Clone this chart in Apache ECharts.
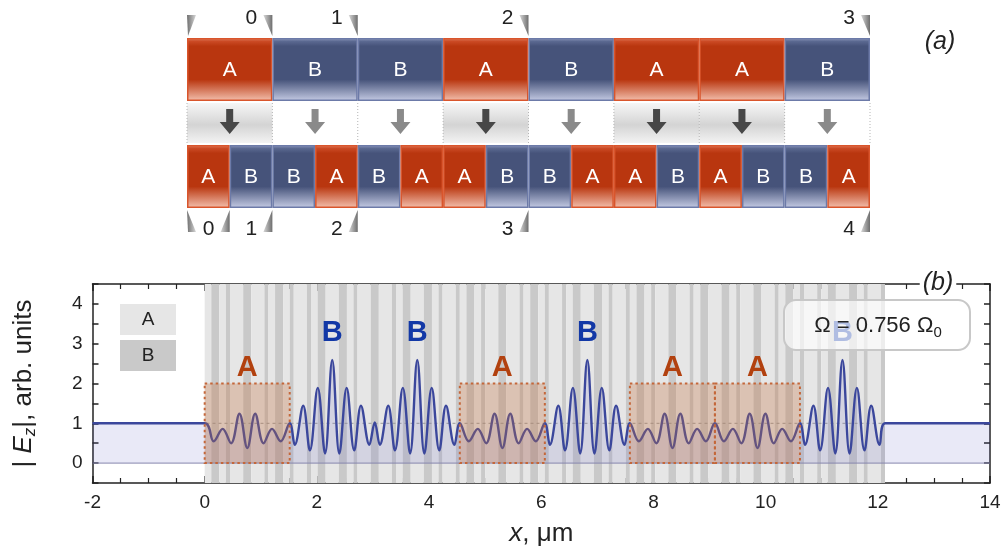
<!DOCTYPE html>
<html><head><meta charset="utf-8">
<script src="https://cdn.jsdelivr.net/npm/echarts@6/dist/echarts.min.js"></script>
<style>html,body{margin:0;padding:0;background:#fff}#c{width:1006px;height:548px}</style>
</head><body><div id="c"></div>
<script>
// ---------------- Panel (a) data ----------------
const topBlocks = ['A','B','B','A','B','A','A','B'];
const bottomBlocks = ['A','B','B','A','B','A','A','B','B','A','A','B','A','B','B','A'];
const topMarkPos = [0, 1, 2, 4, 8];            // in top-block units
const topMarkLabels = ['', '0', '1', '2', '3'];
const bottomMarkPos = [0, 1, 2, 4, 8, 16];     // in half-block units
const bottomMarkLabels = ['', '0', '1', '2', '3', '4'];

// ---------------- Panel (b) data ----------------
const layerSequence = [
  'ABBABAABBAABABBA','BAABABBAABBABAAB','BAABABBAABBABAAB','ABBABAABBAABABBA',
  'BAABABBAABBABAAB','ABBABAABBAABABBA','ABBABAABBAABABBA','BAABABBAABBABAAB'
].join('');
const thicknessA = 0.1175;   // µm
const thicknessB = 0.072;    // µm
const xTickLabels = ['-2','0','2','4','6','8','10','12','14'];
const yTickLabels = ['0','1','2','3','4'];
const curveX = [
  -2, 0,
  0.16,0.32,0.47,0.62,0.76,0.90,1.05,1.20,1.355,1.516,
  1.606,1.756,1.876,2.016,2.146,2.274,2.401,2.531,2.666,2.786,2.936,3.032,
  3.122,3.272,3.392,3.532,3.662,3.79,3.917,4.047,4.182,4.302,4.452,4.548,
  4.708,4.868,5.018,5.168,5.308,5.448,5.598,5.748,5.903,6.064,
  6.154,6.304,6.424,6.564,6.694,6.822,6.949,7.079,7.214,7.334,7.484,7.58,
  7.74,7.90,8.05,8.20,8.34,8.48,8.63,8.78,8.935,9.096,
  9.256,9.416,9.566,9.716,9.856,9.996,10.146,10.296,10.451,10.612,
  10.702,10.852,10.972,11.112,11.242,11.37,11.497,11.627,11.762,11.882,12.032,12.128,
  14
];
const curveY = [
  1, 1,
  0.55,0.86,0.50,1.24,0.38,1.24,0.50,0.86,0.55,1.0,
  0.46,1.44,0.32,1.89,0.24,2.59,0.24,1.89,0.32,1.44,0.46,1.02,
  0.46,1.44,0.32,1.89,0.24,2.59,0.24,1.89,0.32,1.44,0.46,1.0,
  0.55,0.86,0.50,1.24,0.38,1.24,0.50,0.86,0.55,1.0,
  0.46,1.44,0.32,1.89,0.24,2.59,0.24,1.89,0.32,1.44,0.46,1.0,
  0.55,0.86,0.50,1.24,0.38,1.24,0.50,0.86,0.55,1.0,
  0.55,0.86,0.50,1.24,0.38,1.24,0.50,0.86,0.55,1.0,
  0.46,1.44,0.32,1.89,0.24,2.59,0.24,1.89,0.32,1.44,0.46,1.0,
  1
];
const boxHeightA = 2;
const omegaText = 'Ω = 0.756 Ω';

// ---------------- derived geometry ----------------
const FONT = '"Liberation Sans", Arial, Helvetica, sans-serif';
const layers = [];
let acc = 0;
for (const t of layerSequence) {
  const d = t === 'A' ? thicknessA : thicknessB;
  layers.push([acc, acc + d, t === 'A' ? 0 : 1]);
  acc += d;
}
// merge consecutive layers of the same material into one stripe
const stripes = [];
for (const l of layers) {
  const last = stripes[stripes.length - 1];
  if (last && last[2] === l[2]) last[1] = l[1]; else stripes.push(l.slice());
}
const perBlock = layerSequence.length / topBlocks.length;
const blocks = topBlocks.map((t, i) => ({ t, x0: layers[i * perBlock][0], x1: layers[(i + 1) * perBlock - 1][1] }));
const blocksA = blocks.filter(b => b.t === 'A');
const curve = curveX.map((x, i) => [x, curveY[i]]);

const TOP_Y0 = 38, TOP_Y1 = 101, BAND_Y0 = 103, BAND_Y1 = 143, BOT_Y0 = 145, BOT_Y1 = 208;

function grad(stops) { return new echarts.graphic.LinearGradient(0, 0, 0, 1, stops.map((s) => ({ offset: s[0], color: s[1] }))); }
function blockFill(t) {
  return t === 'A'
    ? grad([[0, '#e28a6c'], [0.05, '#cc4b26'], [0.13, '#b9360f'], [0.66, '#b9360f'], [1, '#f3c0ae']])
    : grad([[0, '#9aa3c6'], [0.05, '#5c6a92'], [0.13, '#46537a'], [0.66, '#46537a'], [1, '#c5cbe4']]);
}
function blockStroke(t) { return t === 'A' ? '#d9552c' : '#6c7aa8'; }

function blockRenderer(arr, unit, y0, y1) {
  return function (params, api) {
    const i = params.dataIndex, t = arr[i];
    const p0 = api.coord([i * unit, y0]), p1 = api.coord([(i + 1) * unit, y1]);
    return { type: 'group', children: [
      { type: 'rect', shape: { x: p0[0] + 0.75, y: p0[1] + 0.75, width: p1[0] - p0[0] - 1.5, height: p1[1] - p0[1] - 1.5 },
        style: { fill: blockFill(t), stroke: blockStroke(t), lineWidth: 1.5 } },
      { type: 'text', style: { text: t, x: (p0[0] + p1[0]) / 2, y: (p0[1] + p1[1]) / 2 + 1, align: 'center', verticalAlign: 'middle',
        fill: '#fff', font: '21px ' + FONT } }
    ] };
  };
}

const chart = echarts.init(document.getElementById('c'));
const axisCol = '#222';
const option = {
  animation: false,
  backgroundColor: '#fff',
  grid: [
    { left: 187, top: 0, width: 683, height: 240 },
    { left: 92, top: 284, width: 898, height: 199 }
  ],
  xAxis: [
    { gridIndex: 0, type: 'value', min: 0, max: 8, show: false },
    { gridIndex: 1, type: 'value', min: -2, max: 14, interval: 2, position: 'bottom',
      axisLine: { onZero: false, lineStyle: { color: axisCol, width: 1.5 } },
      axisTick: { inside: true, length: 7, lineStyle: { color: axisCol, width: 1.5 } },
      minorTick: { show: true, splitNumber: 4, length: 5, lineStyle: { color: axisCol, width: 1.2 } },
      splitLine: { show: false },
      axisLabel: { fontSize: 19, fontFamily: FONT, color: '#222', margin: 10,
        formatter: (v) => xTickLabels[Math.round((v + 2) / 2)] },
      name: '{i|x}{n|, μm}', nameLocation: 'middle', nameGap: 38,
      nameTextStyle: { fontSize: 26, fontFamily: FONT, color: '#222',
        rich: { i: { fontSize: 26, fontFamily: FONT, fontStyle: 'italic', color: '#222' }, n: { fontSize: 26, fontFamily: FONT, color: '#222' } } } },
    { gridIndex: 1, type: 'value', min: -2, max: 14, interval: 2, position: 'top',
      axisLine: { onZero: false, lineStyle: { color: axisCol, width: 1.5 } },
      axisTick: { inside: true, length: 7, lineStyle: { color: axisCol, width: 1.5 } },
      minorTick: { show: true, splitNumber: 4, length: 5, lineStyle: { color: axisCol, width: 1.2 } },
      splitLine: { show: false }, axisLabel: { show: false } }
  ],
  yAxis: [
    { gridIndex: 0, type: 'value', min: 0, max: 240, inverse: true, show: false },
    { gridIndex: 1, type: 'value', min: -0.5, max: 4.5, interval: 0.5, position: 'left',
      axisLine: { onZero: false, lineStyle: { color: axisCol, width: 1.5 } },
      axisTick: { inside: true, length: 6, lineStyle: { color: axisCol, width: 1.5 } },
      splitLine: { show: false },
      axisLabel: { fontSize: 19, fontFamily: FONT, color: '#222', margin: 10,
        formatter: (v) => { const r = Math.round(v); return Math.abs(v - r) < 1e-6 ? yTickLabels[r] : ''; } },
      name: '{n|| }{i|E}{s|z}{n||, arb. units}', nameLocation: 'middle', nameRotate: 90, nameGap: 54,
      nameTextStyle: { fontSize: 26, fontFamily: FONT, color: '#222',
        rich: {
          n: { fontSize: 26, fontFamily: FONT, color: '#222', lineHeight: 30 },
          i: { fontSize: 26, fontFamily: FONT, fontStyle: 'italic', color: '#222', lineHeight: 30 },
          s: { fontSize: 17, fontFamily: FONT, fontStyle: 'italic', color: '#222', lineHeight: 17, padding: [14, 0, 0, 0] }
        } } },
    { gridIndex: 1, type: 'value', min: -0.5, max: 4.5, interval: 0.5, position: 'right',
      axisLine: { onZero: false, lineStyle: { color: axisCol, width: 1.5 } },
      axisTick: { inside: true, length: 6, lineStyle: { color: axisCol, width: 1.5 } },
      splitLine: { show: false }, axisLabel: { show: false } }
  ],
  series: [
    // ---- panel (b): layer stripes
    { type: 'custom', xAxisIndex: 1, yAxisIndex: 1, silent: true, z: 1, clip: true,
      data: stripes.map(l => [l[0], l[1]]),
      renderItem: (params, api) => {
        const l = stripes[params.dataIndex];
        const p0 = api.coord([l[0], 4.5]), p1 = api.coord([l[1], -0.5]);
        return { type: 'rect', shape: { x: p0[0], y: p0[1], width: p1[0] - p0[0], height: p1[1] - p0[1] },
          style: { fill: l[2] ? '#c9c9c9' : '#e6e6e6' } };
      } },
    // dashed y = 1 reference
    { type: 'line', xAxisIndex: 1, yAxisIndex: 1, silent: true, z: 2, symbol: 'none',
      data: [[-2, 1], [14, 1]], lineStyle: { color: '#9c9c9c', width: 1, type: [3, 3] } },
    // field curve with area fill
    { type: 'line', xAxisIndex: 1, yAxisIndex: 1, silent: true, z: 3, symbol: 'none', smooth: 0.38,
      data: curve, lineStyle: { color: '#3b479c', width: 2.4 },
      areaStyle: { color: 'rgba(96,96,200,0.2)', origin: 0 } },
    // zero line
    { type: 'line', xAxisIndex: 1, yAxisIndex: 1, silent: true, z: 3, symbol: 'none',
      data: [[-2, 0], [14, 0]], lineStyle: { color: '#8585ad', width: 1 } },
    // A-block boxes
    { type: 'custom', xAxisIndex: 1, yAxisIndex: 1, silent: true, z: 4,
      data: blocksA.map(b => [b.x0, b.x1]),
      renderItem: (params, api) => {
        const b = blocksA[params.dataIndex];
        const p0 = api.coord([b.x0, boxHeightA]), p1 = api.coord([b.x1, 0]);
        return { type: 'rect', shape: { x: p0[0], y: p0[1], width: p1[0] - p0[0], height: p1[1] - p0[1] },
          style: { fill: 'rgba(196,112,62,0.3)', stroke: '#c4673a', lineWidth: 2, lineDash: [2.5, 3] } };
      } },
    // block letters
    { type: 'custom', xAxisIndex: 1, yAxisIndex: 1, silent: true, z: 5,
      data: blocks.map(b => [(b.x0 + b.x1) / 2, b.t === 'A' ? 2.4 : 3.27]),
      renderItem: (params, api) => {
        const b = blocks[params.dataIndex];
        const p = api.coord([(b.x0 + b.x1) / 2, b.t === 'A' ? 2.4 : 3.27]);
        return { type: 'text', style: { text: b.t, x: p[0], y: p[1], align: 'center', verticalAlign: 'middle',
          fill: b.t === 'A' ? '#b2410f' : '#1238a6', font: 'bold 29px ' + FONT } };
      } },
    // ---- panel (a): arrows band
    { type: 'custom', xAxisIndex: 0, yAxisIndex: 0, silent: true, z: 2,
      data: topBlocks.map((t, i) => [i, i + 1]),
      renderItem: (params, api) => {
        const i = params.dataIndex, t = topBlocks[i];
        const p0 = api.coord([i, BAND_Y0]), p1 = api.coord([i + 1, BAND_Y1]);
        const cx = (p0[0] + p1[0]) / 2;
        const col = t === 'A' ? '#474747' : '#8a8a8a';
        const ch = [];
        if (t === 'A') ch.push({ type: 'rect', shape: { x: p0[0], y: p0[1], width: p1[0] - p0[0], height: p1[1] - p0[1] },
          style: { fill: grad([[0, '#f6f6f6'], [0.55, '#d4d4d4'], [1, '#f3f3f3']]) } });
        ch.push({ type: 'polygon', shape: { points: [[cx - 3.5, 109], [cx + 3.5, 109], [cx + 3.5, 122], [cx + 10, 122], [cx, 134], [cx - 10, 122], [cx - 3.5, 122]] },
          style: { fill: col } });
        ch.push({ type: 'line', shape: { x1: p0[0], y1: p0[1], x2: p0[0], y2: p1[1] }, style: { stroke: '#b5b5b5', lineWidth: 1, lineDash: [1, 2] } });
        if (i === topBlocks.length - 1) ch.push({ type: 'line', shape: { x1: p1[0], y1: p0[1], x2: p1[0], y2: p1[1] }, style: { stroke: '#b5b5b5', lineWidth: 1, lineDash: [1, 2] } });
        return { type: 'group', children: ch };
      } },
    // top row blocks
    { type: 'custom', xAxisIndex: 0, yAxisIndex: 0, silent: true, z: 3,
      data: topBlocks.map((t, i) => [i, i + 1]), renderItem: blockRenderer(topBlocks, 1, TOP_Y0, TOP_Y1) },
    // bottom row blocks
    { type: 'custom', xAxisIndex: 0, yAxisIndex: 0, silent: true, z: 3,
      data: bottomBlocks.map((t, i) => [i * 0.5, (i + 1) * 0.5]), renderItem: blockRenderer(bottomBlocks, 0.5, BOT_Y0, BOT_Y1) },
    // top markers
    { type: 'custom', xAxisIndex: 0, yAxisIndex: 0, silent: true, z: 3,
      data: topMarkPos.map(p => [p, 0]),
      renderItem: (params, api) => {
        const i = params.dataIndex;
        const p = api.coord([topMarkPos[i], 15]);
        const bx = p[0];
        const first = i === 0;
        const pts = first ? [[bx, 15], [bx + 9, 15], [bx + 1, 36]] : [[bx - 9, 15], [bx, 15], [bx, 36]];
        const ch = [{ type: 'polygon', shape: { points: pts },
          style: { fill: new echarts.graphic.LinearGradient(first ? 1 : 0, 0, first ? 0 : 1, 0, [{ offset: 0, color: '#d8d8d8' }, { offset: 1, color: '#6e6e6e' }]) } }];
        if (topMarkLabels[i]) ch.push({ type: 'text', style: { text: topMarkLabels[i], x: bx - 21, y: 18, align: 'center', verticalAlign: 'middle', fill: '#222', font: '21px ' + FONT } });
        return { type: 'group', children: ch };
      } },
    // bottom markers
    { type: 'custom', xAxisIndex: 0, yAxisIndex: 0, silent: true, z: 3,
      data: bottomMarkPos.map(p => [p * 0.5, 0]),
      renderItem: (params, api) => {
        const i = params.dataIndex;
        const p = api.coord([bottomMarkPos[i] * 0.5, 210]);
        const bx = p[0];
        const first = i === 0;
        const pts = first ? [[bx, 210], [bx + 1, 232], [bx + 9, 232]] : [[bx, 210], [bx, 232], [bx - 9, 232]];
        const ch = [{ type: 'polygon', shape: { points: pts },
          style: { fill: new echarts.graphic.LinearGradient(first ? 1 : 0, 0, first ? 0 : 1, 0, [{ offset: 0, color: '#d8d8d8' }, { offset: 1, color: '#6e6e6e' }]) } }];
        if (bottomMarkLabels[i]) ch.push({ type: 'text', style: { text: bottomMarkLabels[i], x: bx - 21, y: 229, align: 'center', verticalAlign: 'middle', fill: '#222', font: '21px ' + FONT } });
        return { type: 'group', children: ch };
      } }
  ],
  graphic: [
    { type: 'text', z: 100, style: { text: '(a)', x: 940, y: 42, align: 'center', verticalAlign: 'middle', fill: '#222', font: 'italic 25px ' + FONT } },
    { type: 'text', z: 100, style: { text: '(b)', x: 938, y: 283, align: 'center', verticalAlign: 'middle', fill: '#222', font: 'italic 25px ' + FONT,
      backgroundColor: '#fff', padding: [0, 3, 0, 3] } },
    // legend boxes
    { type: 'rect', z: 100, shape: { x: 120, y: 304, width: 56, height: 31 }, style: { fill: '#e6e6e6' } },
    { type: 'rect', z: 100, shape: { x: 120, y: 340, width: 56, height: 31 }, style: { fill: '#c9c9c9' } },
    { type: 'text', z: 101, style: { text: 'A', x: 148, y: 320, align: 'center', verticalAlign: 'middle', fill: '#222', font: '19px ' + FONT } },
    { type: 'text', z: 101, style: { text: 'B', x: 148, y: 356, align: 'center', verticalAlign: 'middle', fill: '#222', font: '19px ' + FONT } },
    // omega box
    { type: 'rect', z: 100, shape: { x: 784, y: 300, width: 186, height: 50, r: 12 },
      style: { fill: 'rgba(255,255,255,0.67)', stroke: '#c8c8c8', lineWidth: 2 } },
    { type: 'text', z: 101, style: { text: '{a|' + omegaText + '}{s|0}', x: 878, y: 326, align: 'center', verticalAlign: 'middle',
      rich: { a: { fontSize: 22, fontFamily: FONT, fill: '#222', lineHeight: 26 }, s: { fontSize: 15, fontFamily: FONT, fill: '#222', lineHeight: 15, padding: [13, 0, 0, 0] } } } }
  ]
};
chart.setOption(option);
</script>
</body></html>
